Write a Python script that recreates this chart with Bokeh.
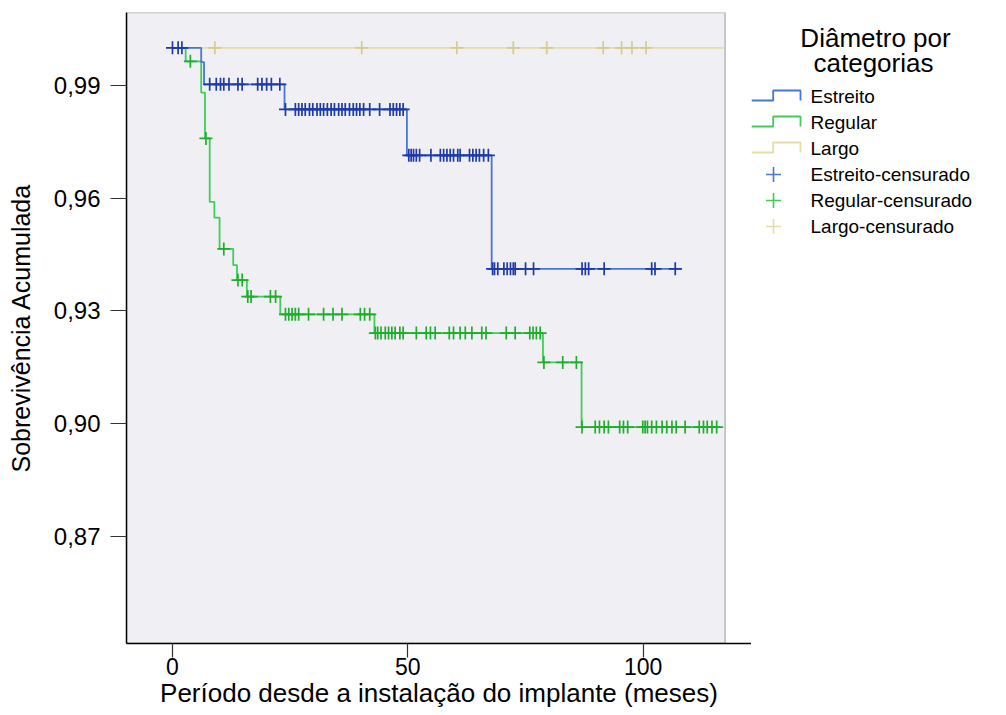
import numpy as np
from bokeh.plotting import figure
from bokeh.layouts import row
from bokeh.models import Range1d, FixedTicker, CustomJSTickFormatter, BoxAnnotation
from bokeh.core.properties import value
from bokeh.embed import file_html
from bokeh.resources import INLINE

# ---------------- data ----------------
group_names = ["Estreito", "Regular", "Largo"]

# Kaplan-Meier step functions: times where survival changes, survival levels
estreito_times = [0.0, 6.1, 6.7, 23.8, 49.8, 67.8]
estreito_surv = [1.0, 0.9962, 0.9903, 0.9836, 0.9714, 0.9412]
estreito_end = 108.2
estreito_censored = [0.0, 1.2, 2.0,
                     7.9, 9.3, 10.2, 10.9, 12.0, 13.9, 14.8, 18.1, 19.0, 20.0, 21.0, 22.8,
                     24.0, 26.1, 26.8, 27.5, 28.2, 29.1, 29.8, 30.7, 31.4, 32.1, 32.9, 33.7,
                     34.4, 35.3, 36.0, 36.7, 37.6, 38.4, 39.1, 39.8, 40.6, 41.9, 44.0, 46.2,
                     46.9, 47.6, 48.3, 49.0,
                     50.2, 50.7, 51.2, 51.8, 52.5, 54.9, 56.9, 57.6, 58.3, 59.0, 59.7, 60.6,
                     61.1, 63.1, 63.8, 64.5, 65.2, 66.1, 67.1,
                     68.0, 68.4, 69.1, 70.4, 71.1, 71.8, 72.4, 72.8, 75.0, 76.7, 87.0, 87.7,
                     88.4, 91.7, 101.8, 102.5, 106.8]

regular_times = [0.0, 2.8, 6.1, 6.9, 7.9, 8.9, 10.0, 12.9, 13.7, 15.8, 22.9, 42.9, 78.7, 86.9]
regular_surv = [1.0, 0.9964, 0.9881, 0.9759, 0.9590, 0.9548, 0.9465, 0.9422, 0.9382,
                0.9338, 0.9291, 0.9241, 0.9163, 0.8991]
regular_end = 116.3
regular_censored = [3.8, 7.1, 10.9, 13.9, 14.8, 16.0, 16.7, 20.8, 21.9,
                    24.0, 24.7, 25.4, 26.1, 26.8, 28.9, 32.1, 34.1, 36.0, 39.9, 40.8, 41.9,
                    43.1, 43.6, 44.3, 45.2, 45.9, 46.6, 47.3, 48.3, 49.0, 51.8, 53.9, 54.8,
                    55.8, 58.8, 59.7, 61.1, 62.2, 63.6, 65.7, 66.6, 70.9, 72.8, 75.9, 76.6,
                    77.3, 78.1,
                    78.9, 82.9, 85.8,
                    87.0, 89.8, 90.7, 91.7, 92.6, 95.0, 95.8, 96.7, 99.9, 100.4, 100.9, 101.8,
                    102.8, 104.0, 105.0, 106.1, 107.0, 108.9, 111.9, 112.8, 113.6, 114.6, 115.6]

largo_times = [0.0]
largo_surv = [1.0]
largo_end = 117.2
largo_censored = [9.0, 40.2, 60.4, 72.4, 79.5, 91.5, 95.4, 97.6, 100.6]

x_ticks = [0, 50, 100]
y_ticks = [0.87, 0.90, 0.93, 0.96, 0.99]

legend_title = ["Diâmetro por", "categorias"]
censored_suffix = "-censurado"

FONT = "Liberation Sans"

# ---------------- main figure ----------------
p = figure(frame_width=625, frame_height=631, output_backend="svg", toolbar_location=None,
           x_range=Range1d(-9.77, 123.0), y_range=Range1d(0.8415, 1.0094),
           min_border_left=126, min_border_right=0, min_border_top=12, min_border_bottom=72,
           background_fill_color="white", border_fill_color="white", outline_line_color=None)
p.grid.visible = False

# grey plotting box (SPSS style) ending before the x axis line ends
p.add_layout(BoxAnnotation(left=-9.77, right=117.4, fill_color="#f0f0f4", fill_alpha=1.0,
                           line_color="black", line_width=1.3, level="underlay"))

def censor_levels(times, surv, cens):
    idx = np.searchsorted(np.asarray(times), np.asarray(cens), side="right") - 1
    idx = np.clip(idx, 0, len(surv) - 1)
    return list(np.asarray(surv)[idx])

series = [
    ("Largo", largo_times, largo_surv, largo_end, largo_censored, "#e5dea6", "#d6cc88"),
    ("Regular", regular_times, regular_surv, regular_end, regular_censored, "#3fcc58", "#1fae2c"),
    ("Estreito", estreito_times, estreito_surv, estreito_end, estreito_censored, "#4677d3", "#1c3aa8"),
]
line_colors = {}
for name, t, s, end, c, lc, cc in series:
    xs = list(t) + [end]
    ys = list(s) + [s[-1]]
    p.step(xs, ys, mode="after", line_color=lc, line_width=1.8)
    p.scatter(c, censor_levels(t, s, c), marker="cross", size=13, line_color=cc, line_width=1.7)
    line_colors[name] = lc

# ---------------- axes ----------------
for ax in (p.xaxis[0], p.yaxis[0]):
    ax.axis_line_color = "black"
    ax.axis_line_width = 1.5
    ax.major_tick_in = 0
    ax.minor_tick_out = 0
    ax.minor_tick_in = 0
    ax.major_tick_line_color = "#333333"
    ax.major_tick_line_width = 1.2
    ax.major_label_text_font = FONT
    ax.major_label_text_color = "black"
    ax.axis_label_text_font = FONT
    ax.axis_label_text_font_style = "normal"
    ax.axis_label_text_color = "black"

p.xaxis.ticker = FixedTicker(ticks=x_ticks)
p.xaxis.major_tick_out = 14
p.xaxis.major_label_standoff = 0
p.xaxis.major_label_text_font_size = "23px"
p.xaxis.axis_label = "Período desde a instalação do implante (meses)"
p.xaxis.axis_label_standoff = 0
p.xaxis.axis_label_text_font_size = "26px"

p.yaxis.ticker = FixedTicker(ticks=y_ticks)
p.yaxis.formatter = CustomJSTickFormatter(code="return tick.toFixed(2).replace('.', ',');")
p.yaxis.major_tick_out = 16
p.yaxis.major_label_standoff = 10
p.yaxis.major_label_text_font_size = "24px"
p.yaxis.axis_label = "Sobrevivência Acumulada"
p.yaxis.axis_label_standoff = 16
p.yaxis.axis_label_text_font_size = "25px"

# ---------------- legend panel (separate figure in page-pixel coordinates) ----------------
# its frame is aligned with the main frame (page y 12..643), so the y range maps page pixels
lg = figure(width=255, height=715, output_backend="svg", toolbar_location=None,
            x_range=Range1d(0, 255), y_range=Range1d(643, 12),
            x_axis_type=None, y_axis_type=None,
            min_border_left=0, min_border_right=0, min_border_top=12, min_border_bottom=72,
            background_fill_color="white", border_fill_color="white", outline_line_color=None)
lg.grid.visible = False

# layout of the legend (pixels inside the panel)
item_y0, item_pitch = 96, 26
icon_x = [0, 21.7, 21.7, 49, 49]
icon_dy = [4, 4, -6, -6, 4]
mark_x, text_x = 22, 59

labels = list(group_names) + [g + censored_suffix for g in group_names]
centers = [item_y0 + item_pitch * i for i in range(len(labels))]

for i, name in enumerate(group_names):
    cy = centers[i]
    lg.line(icon_x, [cy + d for d in icon_dy], line_color=line_colors[name], line_width=1.8)
for i, name in enumerate(group_names):
    cy = centers[len(group_names) + i]
    lg.scatter([mark_x], [cy], marker="cross", size=15, line_color=line_colors[name],
               line_width=1.6)

lg.text(x=[text_x] * len(labels), y=centers, text=labels, text_font=value(FONT),
        text_font_size="19px", text_color="black", text_baseline="middle", text_align="left")
lg.text(x=[124, 122], y=[37, 62], text=legend_title, text_font=value(FONT),
        text_font_size="26px", text_color="black", text_baseline="middle", text_align="center")

layout = row(p, lg)
open("out.html", "w").write(file_html(layout, INLINE))
